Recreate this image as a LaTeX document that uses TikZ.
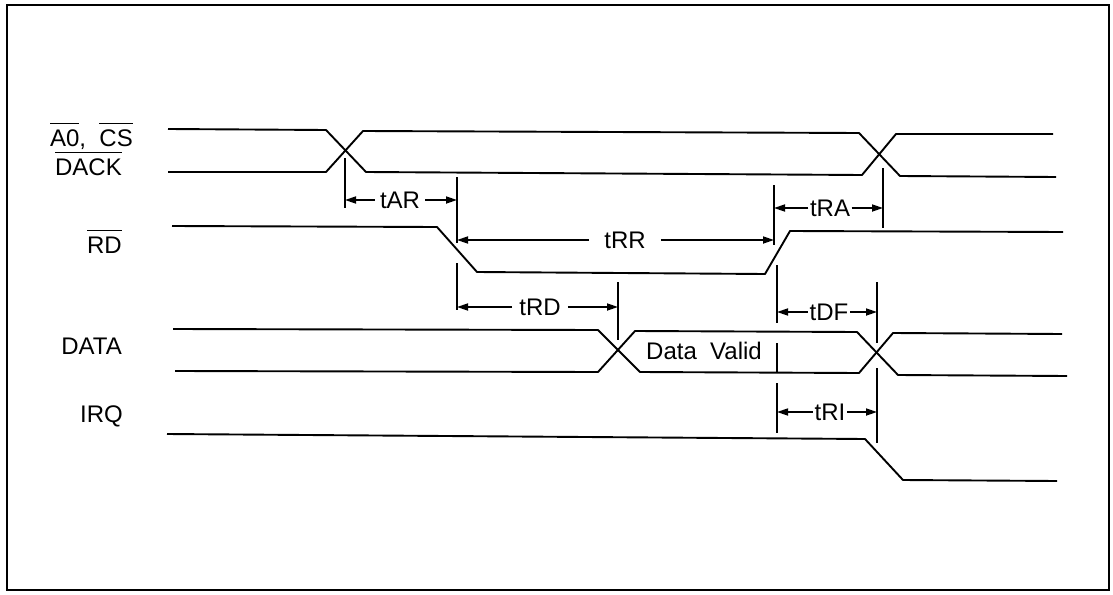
\documentclass[tikz,border=0pt]{standalone}
\usepackage{fontspec}
\setmainfont{Liberation Sans}
\usetikzlibrary{arrows.meta}
\newcommand\ovl[1]{\setbox0=\hbox{#1}\leavevmode\rlap{\raisebox{\dimexpr\ht0+5pt\relax}{\rule{\wd0}{1.6pt}}}\box0}
\tikzset{
  sig/.style={line width=1.9pt, line join=round},
  tickline/.style={line width=1.7pt},
  dimline/.style={line width=1.7pt, -{Triangle[length=11pt,width=7pt]}},
  siglabel/.style={font=\fontsize{24}{28}\selectfont, inner sep=0pt},
  dimlabel/.style={font=\fontsize{24}{28}\selectfont, inner ysep=0pt},
}
\begin{document}
\begin{tikzpicture}[x=1pt,y=-1pt]
\useasboundingbox (0,0) rectangle (1113,594);
\draw[line width=1.9pt] (7,5) rectangle (1109,590);

% signal labels
\node[siglabel, anchor=base east] (lA0) at (133,146) {\ovl{A0},\ \ \ovl{CS}};
\node[siglabel, anchor=base east] (lDACK) at (122,175) {\ovl{DACK}};
\node[siglabel, anchor=base east] (lRD) at (122,253) {\ovl{RD}};
\node[siglabel, anchor=base east] (lDATA) at (122,354) {DATA};
\node[siglabel, anchor=base east] (lIRQ) at (123,422) {IRQ};

% A0, CS / DACK
\draw[sig] (168,129) -- (326,130) -- (366,172) -- (862,175) -- (896,134) -- (1053,134);
\draw[sig] (168,172) -- (326,172) -- (363,131) -- (859,133) -- (900,176) -- (1056,177);
% RD
\draw[sig] (172,226) -- (437,227) -- (477,272) -- (765,274) -- (790,231) -- (1063,232);
% DATA
\draw[sig] (173,329) -- (598,330) -- (640,372) -- (859,373) -- (893,333) -- (1062,334);
\draw[sig] (175,371) -- (598,372) -- (635,331) -- (857,332) -- (898,375) -- (1067,376);
\node[siglabel, anchor=base] (dv) at (704,359) {Data\ \ Valid};
% IRQ
\draw[sig] (167,434) -- (865,439) -- (903,480) -- (1057,481);

% tick lines
\coordinate (T1a) at (345,158); \coordinate (T1b) at (345,208);
\coordinate (T2a) at (457,177); \coordinate (T2b) at (457,243);
\coordinate (T3a) at (457,263); \coordinate (T3b) at (457,310);
\coordinate (T4a) at (774,185); \coordinate (T4b) at (774,245);
\coordinate (T5a) at (883,168); \coordinate (T5b) at (883,228);
\coordinate (T6a) at (618,282); \coordinate (T6b) at (618,340);
\coordinate (T7a) at (777,265); \coordinate (T7b) at (777,323);
\coordinate (T8a) at (877,282); \coordinate (T8b) at (877,343);
\coordinate (T9a) at (777,343); \coordinate (T9b) at (777,373);
\coordinate (T10a) at (777,383); \coordinate (T10b) at (777,433);
\coordinate (T11a) at (877,368); \coordinate (T11b) at (877,443);
\foreach \i in {1,...,11} \draw[tickline] (T\i a) -- (T\i b);

% dimension labels and arrows
\node[dimlabel, inner xsep=5pt] (tAR) at (400,200) {tAR};
\draw[dimline] (tAR.west) -- (tAR.west -| T1a);
\draw[dimline] (tAR.east) -- (tAR.east -| T2a);

\node[dimlabel, inner xsep=15pt] (tRR) at (625,240) {tRR};
\draw[dimline] (tRR.west) -- (tRR.west -| T2a);
\draw[dimline] (tRR.east) -- (tRR.east -| T4a);

\node[dimlabel, inner xsep=1.5pt] (tRA) at (830,208) {tRA};
\draw[dimline] (tRA.west) -- (tRA.west -| T4a);
\draw[dimline] (tRA.east) -- (tRA.east -| T5a);

\node[dimlabel, inner xsep=7pt] (tRD) at (540,307) {tRD};
\draw[dimline] (tRD.west) -- (tRD.west -| T3a);
\draw[dimline] (tRD.east) -- (tRD.east -| T6a);

\node[dimlabel, inner xsep=1.5pt] (tDF) at (829,312) {tDF};
\draw[dimline] (tDF.west) -- (tDF.west -| T7a);
\draw[dimline] (tDF.east) -- (tDF.east -| T8a);

\node[dimlabel, inner xsep=1.5pt] (tRI) at (830,412) {tRI};
\draw[dimline] (tRI.west) -- (tRI.west -| T10a);
\draw[dimline] (tRI.east) -- (tRI.east -| T11a);
\end{tikzpicture}
\end{document}
